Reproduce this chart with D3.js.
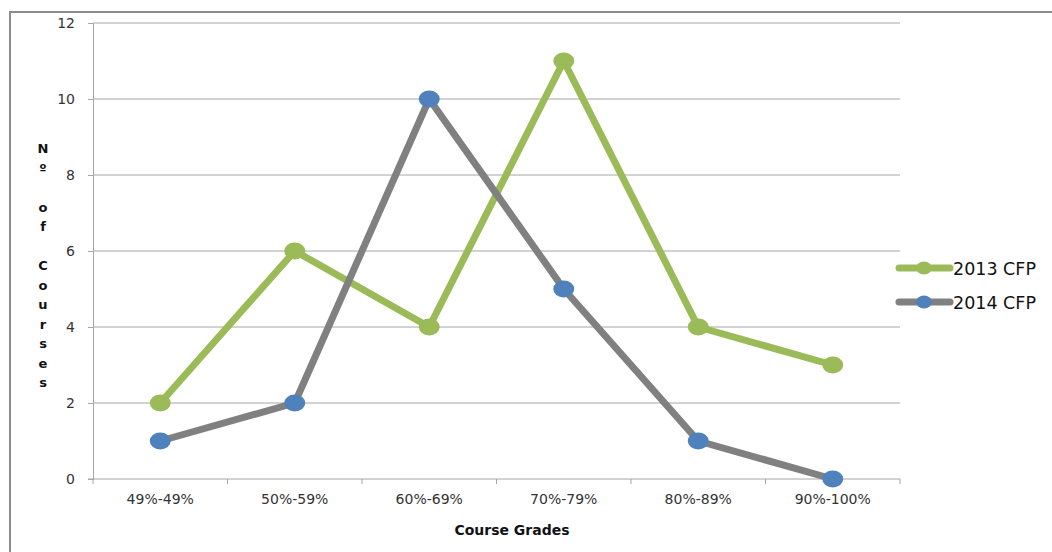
<!DOCTYPE html>
<html>
<head>
<meta charset="utf-8">
<script src="https://cdn.jsdelivr.net/npm/d3@7"></script>
<style>
  html, body { margin: 0; padding: 0; background: #fff; }
  svg { display: block; }
</style>
</head>
<body>
<svg id="chart" width="1052" height="552"></svg>
<script>
// Grade bands and course counts per year
const categories = ["49%-49%", "50%-59%", "60%-69%", "70%-79%", "80%-89%", "90%-100%"];
const counts2013 = [2, 6, 4, 11, 4, 3];
const counts2014 = [1, 2, 10, 5, 1, 0];
const seriesNames = ["2013 CFP", "2014 CFP"];
const yTicks = [0, 2, 4, 6, 8, 10, 12];
const yLabelText = "Nº of Courses";
const xLabelText = "Course Grades";

(function draw() {
  const svg = d3.select("#chart");
  const font = "'DejaVu Sans', Verdana, sans-serif";

  // outer frame (left and top edges visible)
  svg.append("path")
    .attr("d", "M10,552 L10,12 L1052,12")
    .attr("fill", "none").attr("stroke", "#8c8c8c").attr("stroke-width", 2);

  const plotL = 93, plotR = 900, plotT = 23, plotB = 479;

  const x = d3.scaleBand().domain(categories).range([plotL, plotR]).padding(0);
  const y = d3.scaleLinear().domain([0, 12]).range([plotB, plotT]);

  // horizontal gridlines
  svg.append("g").selectAll("line").data(yTicks.filter(d => d > 0)).join("line")
    .attr("x1", plotL).attr("x2", plotR)
    .attr("y1", d => y(d)).attr("y2", d => y(d))
    .attr("stroke", "#a6a6a6").attr("stroke-width", 1);

  // y axis
  const yAxis = d3.axisLeft(y).tickValues(yTicks).tickSize(5).tickPadding(13);
  const gy = svg.append("g").attr("transform", `translate(${plotL},0)`).call(yAxis);
  gy.select(".domain").attr("stroke", "#a6a6a6");
  gy.selectAll(".tick line").attr("stroke", "#a6a6a6");
  gy.selectAll(".tick text").attr("font-family", font).attr("font-size", 14).attr("fill", "#333");

  // x axis with ticks at band edges
  const gx = svg.append("g").attr("transform", `translate(0,${plotB})`);
  gx.append("line").attr("x1", plotL - 5).attr("x2", plotR).attr("y1", 0).attr("y2", 0)
    .attr("stroke", "#a6a6a6");
  const edges = categories.map(c => x(c)).concat([x(categories[categories.length - 1]) + x.bandwidth()]);
  gx.selectAll("line.tk").data(edges).join("line").attr("class", "tk")
    .attr("x1", d => d).attr("x2", d => d).attr("y1", 0).attr("y2", 5)
    .attr("stroke", "#a6a6a6");
  gx.selectAll("text").data(categories).join("text")
    .attr("x", d => x(d) + x.bandwidth() / 2).attr("y", 25)
    .attr("text-anchor", "middle")
    .attr("font-family", font).attr("font-size", 14).attr("fill", "#333")
    .text(d => d);

  // axis titles
  svg.append("text")
    .attr("x", 512).attr("y", 535).attr("text-anchor", "middle")
    .attr("font-family", font).attr("font-size", 14).attr("font-weight", "bold").attr("fill", "#111")
    .text(xLabelText);

  const yl = svg.append("text")
    .attr("font-family", font).attr("font-size", 13).attr("font-weight", "bold").attr("fill", "#111")
    .attr("text-anchor", "middle");
  Array.from(yLabelText).forEach((ch, i) => {
    yl.append("tspan").attr("x", 43).attr("y", 153 + i * 19.5).text(ch === " " ? "\u00a0" : ch);
  });

  // series
  const cx = d => x(d) + x.bandwidth() / 2;
  const series = [
    { name: seriesNames[0], values: counts2013, line: "#9bbb59", marker: "#9bbb59" },
    { name: seriesNames[1], values: counts2014, line: "#808080", marker: "#4f81bd" }
  ];
  const lineGen = d3.line().x((d, i) => cx(categories[i])).y(d => y(d));

  series.forEach(s => {
    svg.append("path").datum(s.values)
      .attr("d", lineGen).attr("fill", "none")
      .attr("stroke", s.line).attr("stroke-width", 7).attr("stroke-linejoin", "round");
  });
  series.forEach(s => {
    svg.append("g").selectAll("ellipse").data(s.values).join("ellipse")
      .attr("cx", (d, i) => cx(categories[i])).attr("cy", d => y(d))
      .attr("rx", 10.5).attr("ry", 8.5).attr("fill", s.marker);
  });

  // legend
  const lg = svg.append("g");
  series.forEach((s, i) => {
    const ly = 268 + i * 34;
    lg.append("line").attr("x1", 899).attr("x2", 950).attr("y1", ly).attr("y2", ly)
      .attr("stroke", s.line).attr("stroke-width", 7).attr("stroke-linecap", "round");
    lg.append("ellipse").attr("cx", 924).attr("cy", ly).attr("rx", 8).attr("ry", 6.5).attr("fill", s.marker);
    lg.append("text").attr("x", 953).attr("y", ly + 6.5)
      .attr("font-family", font).attr("font-size", 17.5).attr("fill", "#111")
      .text(s.name);
  });
})();
</script>
</body>
</html>
